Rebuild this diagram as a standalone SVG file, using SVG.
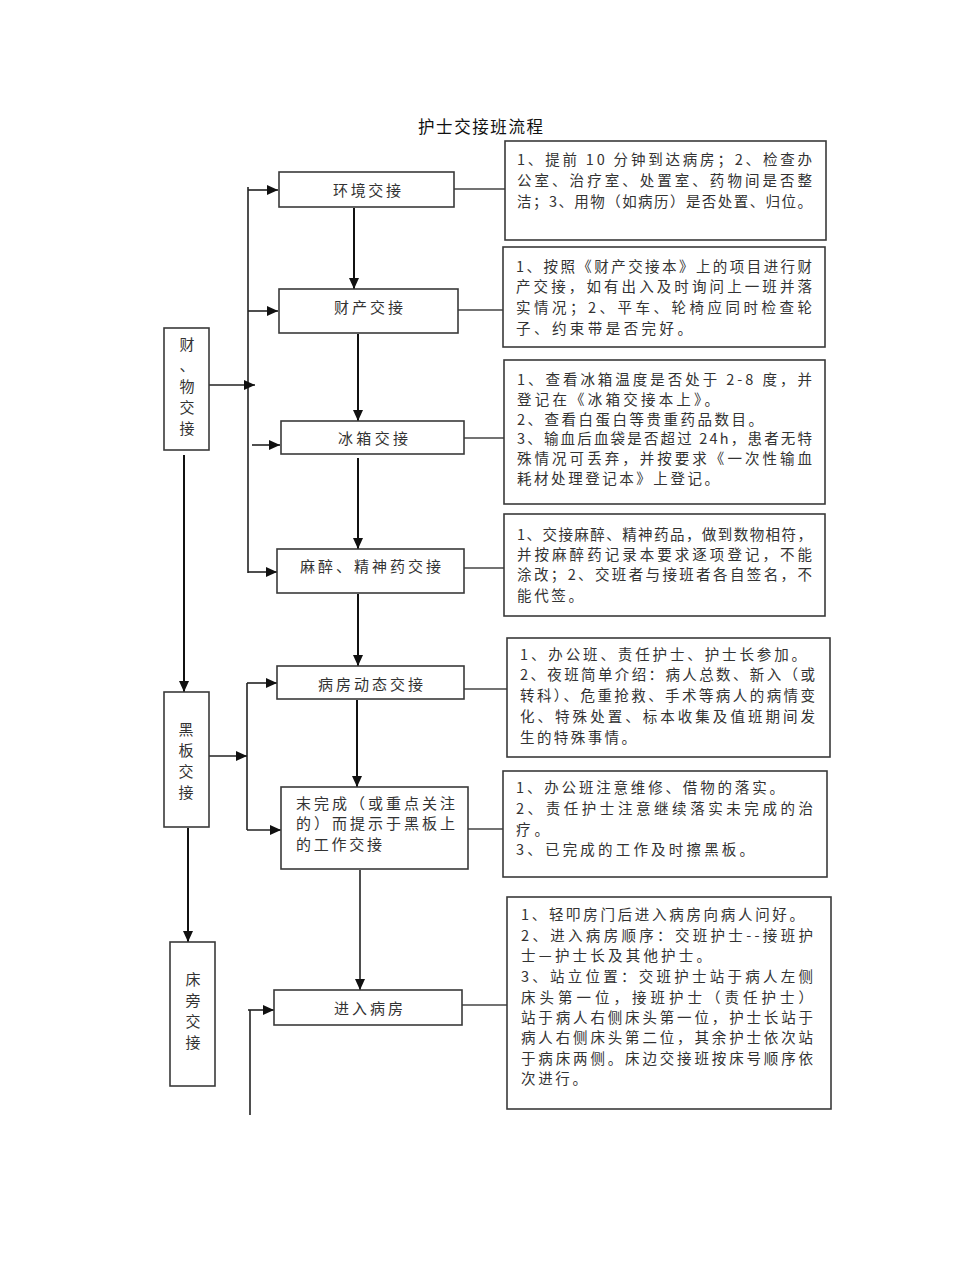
<svg xmlns="http://www.w3.org/2000/svg" width="960" height="1280" viewBox="0 0 960 1280">
<style>
.bg{fill:#ffffff}
.box{fill:#ffffff;stroke:#3a3a3a;stroke-width:1.6}
.note{fill:#ffffff;stroke:#3a3a3a;stroke-width:1.6}
.lbl{font-family:"Noto Sans CJK SC","Liberation Sans",sans-serif;font-size:15px;fill:#333333;dominant-baseline:central}
.mid{text-anchor:middle}
.nt{font-family:"Noto Sans CJK SC","Liberation Sans",sans-serif;font-size:14.5px;fill:#333333;dominant-baseline:central}
.title{font-family:"Noto Sans CJK SC","Liberation Sans",sans-serif;font-size:16.5px;fill:#111111;dominant-baseline:central}
.ln{fill:none;stroke:#222222;stroke-width:1.6}
.ar{fill:none;stroke:#111111;stroke-width:2}
.thin{fill:none;stroke:#444444;stroke-width:1.3}
</style>
<defs>
<marker id="ah" markerUnits="userSpaceOnUse" markerWidth="12" markerHeight="10" refX="11" refY="5" orient="auto">
<path d="M0,0 L11,5 L0,10 Z" fill="#111111"/>
</marker>
</defs>
<rect class="bg" x="0" y="0" width="960" height="1280"/>
<text class="title" x="418" y="126" textLength="125">护士交接班流程</text>

<g id="connectors">
<line class="ar" x1="354" y1="208" x2="354" y2="289" marker-end="url(#ah)"/>
<line class="ar" x1="358" y1="334" x2="358" y2="421" marker-end="url(#ah)"/>
<line class="ar" x1="358" y1="458" x2="358" y2="549" marker-end="url(#ah)"/>
<line class="ar" x1="358" y1="594" x2="358" y2="666" marker-end="url(#ah)"/>
<line class="ar" x1="357" y1="700" x2="357" y2="787" marker-end="url(#ah)"/>
<line class="ln" x1="360" y1="870" x2="360" y2="990" marker-end="url(#ah)"/>
<line class="ar" x1="184" y1="455" x2="184" y2="692" marker-end="url(#ah)"/>
<line class="ar" x1="188" y1="828" x2="188" y2="942" marker-end="url(#ah)"/>
<line class="ln" x1="248" y1="187" x2="248" y2="573"/>
<line class="ln" x1="209" y1="385" x2="255" y2="385" marker-end="url(#ah)"/>
<line class="ln" x1="248" y1="190" x2="278" y2="190" marker-end="url(#ah)"/>
<line class="ln" x1="248" y1="311" x2="278" y2="311" marker-end="url(#ah)"/>
<line class="ln" x1="252" y1="445" x2="280" y2="445" marker-end="url(#ah)"/>
<line class="ln" x1="248" y1="572" x2="277" y2="572" marker-end="url(#ah)"/>
<line class="ln" x1="247" y1="683" x2="247" y2="830"/>
<line class="ln" x1="209" y1="756" x2="247" y2="756" marker-end="url(#ah)"/>
<line class="ln" x1="247" y1="683" x2="277" y2="683" marker-end="url(#ah)"/>
<line class="ln" x1="247" y1="830" x2="281" y2="830" marker-end="url(#ah)"/>
<line class="ln" x1="250" y1="1010" x2="250" y2="1115"/>
<line class="ln" x1="248" y1="1010" x2="274" y2="1010" marker-end="url(#ah)"/>
<line class="thin" x1="454" y1="189" x2="505" y2="189"/>
<line class="thin" x1="458" y1="310" x2="503" y2="310"/>
<line class="thin" x1="464" y1="438" x2="504" y2="438"/>
<line class="thin" x1="464" y1="568" x2="504" y2="568"/>
<line class="thin" x1="464" y1="689" x2="507" y2="689"/>
<line class="thin" x1="468" y1="829" x2="503" y2="829"/>
<line class="thin" x1="462" y1="1005" x2="507" y2="1005"/>
</g>

<g id="left-caiwu">
<rect class="box" x="164" y="328" width="45" height="122"/>
<text class="lbl mid" x="187" y="343">财</text>
<text class="lbl mid" x="187" y="364">、</text>
<text class="lbl mid" x="187" y="385">物</text>
<text class="lbl mid" x="187" y="406">交</text>
<text class="lbl mid" x="187" y="427">接</text>
</g>
<g id="left-heiban">
<rect class="box" x="164" y="692" width="45" height="135"/>
<text class="lbl mid" x="186" y="728">黑</text>
<text class="lbl mid" x="186" y="749">板</text>
<text class="lbl mid" x="186" y="770">交</text>
<text class="lbl mid" x="186" y="791">接</text>
</g>
<g id="left-chuangpang">
<rect class="box" x="170" y="942" width="45" height="144"/>
<text class="lbl mid" x="193" y="978">床</text>
<text class="lbl mid" x="193" y="999">旁</text>
<text class="lbl mid" x="193" y="1020">交</text>
<text class="lbl mid" x="193" y="1041">接</text>
</g>

<g id="n-huanjing">
<rect class="box" x="279" y="172" width="175" height="35"/>
<text class="lbl" x="333" y="189" textLength="68">环境交接</text>
</g>
<g id="n-caichan">
<rect class="box" x="279" y="289" width="179" height="44"/>
<text class="lbl" x="334" y="306" textLength="69">财产交接</text>
</g>
<g id="n-bingxiang">
<rect class="box" x="281" y="421" width="183" height="33"/>
<text class="lbl" x="338" y="437" textLength="70">冰箱交接</text>
</g>
<g id="n-mazui">
<rect class="box" x="277" y="549" width="187" height="44"/>
<text class="lbl" x="300" y="565" textLength="141">麻醉、精神药交接</text>
</g>
<g id="n-bingfang">
<rect class="box" x="277" y="666" width="187" height="33"/>
<text class="lbl" x="318" y="683" textLength="105">病房动态交接</text>
</g>
<g id="n-weiwancheng">
<rect class="box" x="281" y="787" width="187" height="82"/>
<text class="lbl" x="296" y="802" textLength="159">末完成（或重点关注</text>
<text class="lbl" x="296" y="822" textLength="159">的）而提示于黑板上</text>
<text class="lbl" x="296" y="843" textLength="86">的工作交接</text>
</g>
<g id="n-jinru">
<rect class="box" x="274" y="990" width="188" height="35"/>
<text class="lbl" x="334" y="1007" textLength="69">进入病房</text>
</g>

<g id="note1">
<rect class="note" x="505" y="141" width="321" height="99"/>
<text class="nt" x="517" y="158" textLength="295">1、提前 10 分钟到达病房；2、检查办</text>
<text class="nt" x="517" y="179" textLength="295">公室、治疗室、处置室、药物间是否整</text>
<text class="nt" x="517" y="200" textLength="295">洁；3、用物（如病历）是否处置、归位。</text>
</g>
<g id="note2">
<rect class="note" x="503" y="247" width="322" height="100"/>
<text class="nt" x="516" y="265" textLength="296">1、按照《财产交接本》上的项目进行财</text>
<text class="nt" x="516" y="285" textLength="296">产交接，如有出入及时询问上一班并落</text>
<text class="nt" x="516" y="306" textLength="296">实情况；2、平车、轮椅应同时检查轮</text>
<text class="nt" x="516" y="327" textLength="176">子、约束带是否完好。</text>
</g>
<g id="note3">
<rect class="note" x="504" y="360" width="321" height="144"/>
<text class="nt" x="517" y="378" textLength="295">1、查看冰箱温度是否处于 2-8 度，并</text>
<text class="nt" x="517" y="398" textLength="202">登记在《冰箱交接本上》。</text>
<text class="nt" x="517" y="418" textLength="246">2、查看白蛋白等贵重药品数目。</text>
<text class="nt" x="517" y="437" textLength="295">3、输血后血袋是否超过 24h，患者无特</text>
<text class="nt" x="517" y="457" textLength="295">殊情况可丢弃，并按要求《一次性输血</text>
<text class="nt" x="517" y="477" textLength="202">耗材处理登记本》上登记。</text>
</g>
<g id="note4">
<rect class="note" x="504" y="514" width="321" height="102"/>
<text class="nt" x="517" y="533" textLength="295">1、交接麻醉、精神药品，做到数物相符，</text>
<text class="nt" x="517" y="553" textLength="295">并按麻醉药记录本要求逐项登记，不能</text>
<text class="nt" x="517" y="573" textLength="295">涂改；2、交班者与接班者各自签名，不</text>
<text class="nt" x="517" y="594" textLength="66">能代签。</text>
</g>
<g id="note5">
<rect class="note" x="507" y="638" width="323" height="119"/>
<text class="nt" x="520" y="653" textLength="286">1、办公班、责任护士、护士长参加。</text>
<text class="nt" x="520" y="673" textLength="295">2、夜班简单介绍：病人总数、新入（或</text>
<text class="nt" x="520" y="694" textLength="295">转科）、危重抢救、手术等病人的病情变</text>
<text class="nt" x="520" y="715" textLength="295">化、特殊处置、标本收集及值班期间发</text>
<text class="nt" x="520" y="736" textLength="116">生的特殊事情。</text>
</g>
<g id="note6">
<rect class="note" x="503" y="771" width="324" height="106"/>
<text class="nt" x="516" y="786" textLength="268">1、办公班注意维修、借物的落实。</text>
<text class="nt" x="516" y="807" textLength="297">2、责任护士注意继续落实未完成的治</text>
<text class="nt" x="516" y="828" textLength="33">疗。</text>
<text class="nt" x="516" y="848" textLength="238">3、已完成的工作及时擦黑板。</text>
</g>
<g id="note7">
<rect class="note" x="507" y="897" width="324" height="212"/>
<text class="nt" x="521" y="913" textLength="283">1、轻叩房门后进入病房向病人问好。</text>
<text class="nt" x="521" y="934" textLength="292">2、进入病房顺序：交班护士--接班护</text>
<text class="nt" x="521" y="954" textLength="190">士—护士长及其他护士。</text>
<text class="nt" x="521" y="975" textLength="292">3、站立位置：交班护士站于病人左侧</text>
<text class="nt" x="521" y="996" textLength="292">床头第一位，接班护士（责任护士）</text>
<text class="nt" x="521" y="1016" textLength="292">站于病人右侧床头第一位，护士长站于</text>
<text class="nt" x="521" y="1036" textLength="292">病人右侧床头第二位，其余护士依次站</text>
<text class="nt" x="521" y="1057" textLength="292">于病床两侧。床边交接班按床号顺序依</text>
<text class="nt" x="521" y="1077" textLength="66">次进行。</text>
</g>
</svg>
